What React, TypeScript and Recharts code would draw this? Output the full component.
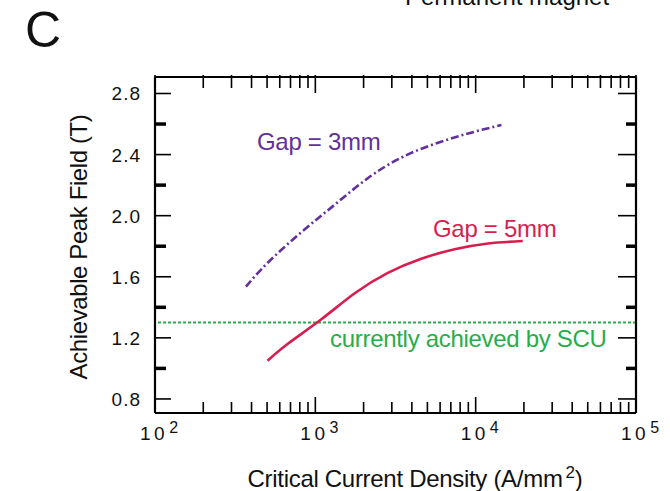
import React from "react";
import {
  LineChart,
  Line,
  XAxis,
  YAxis,
  ReferenceLine,
  Customized,
} from "recharts";

// ---- data ----
const gap3mm = [
  { x: 369, y: 1.535 },
  { x: 503, y: 1.69 },
  { x: 814, y: 1.89 },
  { x: 1314, y: 2.07 },
  { x: 2123, y: 2.245 },
  { x: 3432, y: 2.38 },
  { x: 5543, y: 2.47 },
  { x: 8954, y: 2.538 },
  { x: 14480, y: 2.594 },
];
const gap5mm = [
  { x: 503, y: 1.05 },
  { x: 671, y: 1.16 },
  { x: 1085, y: 1.32 },
  { x: 1753, y: 1.49 },
  { x: 2831, y: 1.625 },
  { x: 4577, y: 1.718 },
  { x: 7393, y: 1.78 },
  { x: 11940, y: 1.818 },
  { x: 19660, y: 1.834 },
];
const scuLevel = 1.3;

const xDecadeTicks = [100, 1000, 10000, 100000];
const xDecadeExponents = ["2", "3", "4", "5"];
const xMinorTicks = [
  200, 300, 400, 500, 600, 700, 800, 900,
  2000, 3000, 4000, 5000, 6000, 7000, 8000, 9000,
  20000, 30000, 40000, 50000, 60000, 70000, 80000, 90000,
];
const yMajorTicks = [0.8, 1.2, 1.6, 2.0, 2.4, 2.8];
const yMinorTicks = [1.0, 1.4, 1.8, 2.2, 2.6];
const xDomain = [100, 100000];
const yDomain = [0.708, 2.908];

const labels = {
  panel: "C",
  top: "Permanent magnet",
  gap3: "Gap = 3mm",
  gap5: "Gap = 5mm",
  scu: "currently achieved by SCU",
  yTitle: "Achievable Peak Field (T)",
  xTitle: "Critical Current Density (A/mm",
};

const FONT = "'Liberation Sans', Arial, Helvetica, sans-serif";
const PURPLE = "#62309a";
const RED = "#d81e4e";
const GREEN = "#27ad4a";

const allXTicks = [...xDecadeTicks, ...xMinorTicks].sort((a, b) => a - b);
const allYTicks = [...yMajorTicks, ...yMinorTicks].sort((a, b) => a - b);

const isDecade = (v: number) => xDecadeTicks.includes(v);
const isYMajor = (v: number) => yMajorTicks.some((t) => Math.abs(t - v) < 1e-9);

const BottomTick = (props: any) => {
  const { x, y, payload } = props;
  const v = payload.value;
  const dec = isDecade(v);
  const idx = xDecadeTicks.indexOf(v);
  return (
    <g>
      <line x1={x} x2={x} y1={y} y2={y - (dec ? 16 : 11)} stroke="#000" strokeWidth={1.6} />
      {dec && (
        <text x={x - 15} y={y + 27} fontFamily={FONT} fontSize={19} fill="#111" letterSpacing={3.5}>
          10
          <tspan dx={1} dy={-7} fontSize={16} letterSpacing={0}>
            {xDecadeExponents[idx]}
          </tspan>
        </text>
      )}
    </g>
  );
};

const TopTick = (props: any) => {
  const { x, y, payload } = props;
  const dec = isDecade(payload.value);
  return <line x1={x} x2={x} y1={y - 2} y2={y + (dec ? 16 : 11)} stroke="#000" strokeWidth={1.6} />;
};

const LeftTick = (props: any) => {
  const { x, y, payload } = props;
  const v = payload.value;
  const major = isYMajor(v);
  return (
    <g>
      {major ? (
        <line x1={x} x2={x + 16} y1={y} y2={y} stroke="#000" strokeWidth={1.6} />
      ) : (
        <line x1={x} x2={x + 11} y1={y} y2={y} stroke="#000" strokeWidth={3.5} />
      )}
      {major && (
        <text x={x - 14} y={y + 7} textAnchor="end" fontFamily={FONT} fontSize={19} fill="#111" letterSpacing={1}>
          {v.toFixed(1)}
        </text>
      )}
    </g>
  );
};

const RightTick = (props: any) => {
  const { x, y, payload } = props;
  const major = isYMajor(payload.value);
  return major ? (
    <line x1={x} x2={x - 18} y1={y} y2={y} stroke="#000" strokeWidth={1.6} />
  ) : (
    <line x1={x} x2={x - 10} y1={y} y2={y} stroke="#000" strokeWidth={3.5} />
  );
};

const Annotations = () => (
  <g fontFamily={FONT}>
    <text x={25} y={47} fontSize={50} fill="#111">{labels.panel}</text>
    <text x={405} y={5} fontSize={24} fill="#111">{labels.top}</text>
    <text x={257} y={150} fontSize={24} fill={PURPLE} letterSpacing={-0.3}>{labels.gap3}</text>
    <text x={433} y={237} fontSize={24} fill={RED} letterSpacing={-0.3}>{labels.gap5}</text>
    <text x={330} y={347} fontSize={24} fill={GREEN} letterSpacing={-0.3}>{labels.scu}</text>
    <text
      x={87}
      y={247}
      fontSize={24}
      fill="#111"
      textAnchor="middle"
      transform="rotate(-90 87 247)"
      letterSpacing={-0.4}
    >
      {labels.yTitle}
    </text>
    <text x={415} y={487} fontSize={24} fill="#111" textAnchor="middle" letterSpacing={-0.3}>
      {labels.xTitle}
      <tspan dx={3} dy={-9} fontSize={17}>2</tspan>
      <tspan dy={9}>)</tspan>
    </text>
  </g>
);

export default function App() {
  return (
    <div style={{ position: "absolute", left: 0, top: 0, width: 670, height: 491, background: "#fff" }}>
      <LineChart
        width={670}
        height={491}
        margin={{ top: 76, right: 33, bottom: 48, left: 95 }}
        style={{ fontFamily: FONT }}
      >
        <XAxis
          xAxisId="bottom"
          dataKey="x"
          type="number"
          scale="log"
          domain={xDomain}
          allowDataOverflow
          ticks={allXTicks}
          interval={0}
          tickSize={0}
          tickMargin={0}
          tick={<BottomTick />}
          tickLine={false}
          axisLine={{ stroke: "#000", strokeWidth: 2.2 }}
          height={30}
          orientation="bottom"
        />
        <XAxis
          xAxisId="top"
          dataKey="x"
          type="number"
          scale="log"
          domain={xDomain}
          allowDataOverflow
          ticks={allXTicks}
          interval={0}
          tickSize={0}
          tickMargin={0}
          tick={<TopTick />}
          tickLine={false}
          axisLine={{ stroke: "#000", strokeWidth: 2.2 }}
          height={1}
          orientation="top"
        />
        <YAxis
          yAxisId="left"
          dataKey="y"
          type="number"
          domain={yDomain}
          allowDataOverflow
          ticks={allYTicks}
          interval={0}
          tickSize={0}
          tickMargin={0}
          tick={<LeftTick />}
          tickLine={false}
          axisLine={{ stroke: "#000", strokeWidth: 2.2 }}
          width={60}
          orientation="left"
        />
        <YAxis
          yAxisId="right"
          dataKey="y"
          type="number"
          domain={yDomain}
          allowDataOverflow
          ticks={allYTicks}
          interval={0}
          tickSize={0}
          tickMargin={0}
          tick={<RightTick />}
          tickLine={false}
          axisLine={{ stroke: "#000", strokeWidth: 2.2 }}
          width={1}
          orientation="right"
        />
        <ReferenceLine
          xAxisId="top"
          yAxisId="right"
          y={scuLevel}
          stroke={GREEN}
          strokeWidth={2}
          strokeDasharray="3 2"
        />
        <Line
          xAxisId="bottom"
          yAxisId="left"
          data={gap3mm}
          dataKey="y"
          type="natural"
          stroke={PURPLE}
          strokeWidth={2.6}
          strokeDasharray="8 3 2 3"
          dot={false}
          isAnimationActive={false}
        />
        <Line
          xAxisId="bottom"
          yAxisId="left"
          data={gap5mm}
          dataKey="y"
          type="natural"
          stroke={RED}
          strokeWidth={2.6}
          dot={false}
          isAnimationActive={false}
        />
        <Customized component={Annotations} />
      </LineChart>
    </div>
  );
}
